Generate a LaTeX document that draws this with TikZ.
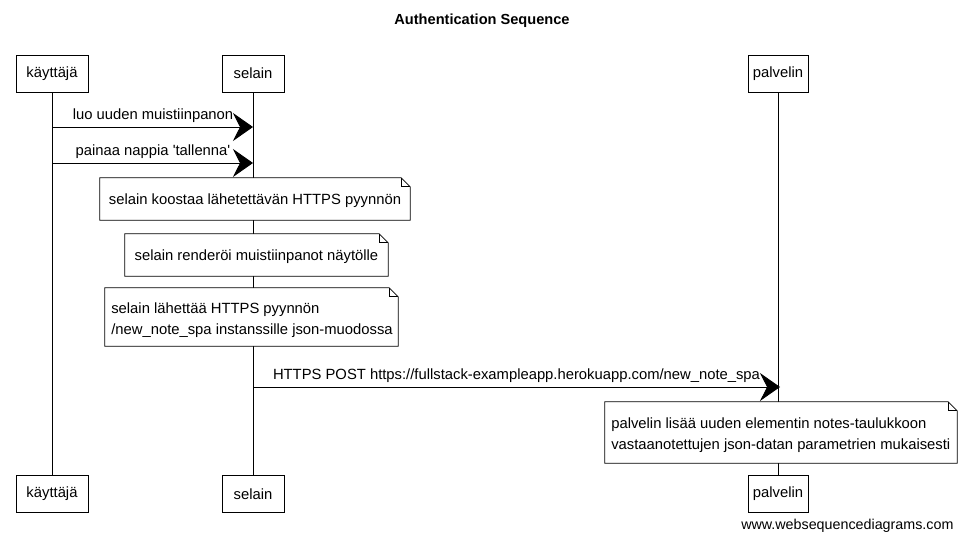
\documentclass[tikz,border=0pt]{standalone}
\usepackage{fontspec}
\setmainfont{Liberation Sans}[Ligatures=TeXOff]
\usetikzlibrary{arrows.meta,calc}
\begin{document}
\begin{tikzpicture}[x=1pt,y=-1pt,
  font=\fontsize{14.8}{17}\selectfont,
  actor/.style={draw, line width=0.9pt, fill=white, minimum height=37pt, inner sep=0pt},
  lifeline/.style={line width=0.8pt},
  msg/.style={line width=0.9pt, -{Stealth[length=20pt,width=28pt,inset=7pt]}},
  notebox/.style={inner sep=0pt, align=left},
  notetext/.style={font=\fontsize{14.8}{21}\selectfont}
]
\useasboundingbox[fill=white] (0,0) rectangle (964,541);
\node[font=\bfseries\fontsize{14.6}{17}\selectfont] (title) at (482,21) {Authentication Sequence};

% actors top
\node[actor, minimum width=72pt] (u1) at (52,73.5) {käyttäjä};
\node[actor, minimum width=62pt] (s1) at (253,73.5) {selain};
\node[actor, minimum width=60pt] (p1) at (778,73.5) {palvelin};
% actors bottom
\node[actor, minimum width=72pt] (u2) at (52,494) {käyttäjä};
\node[actor, minimum width=62pt] (s2) at (253,494) {selain};
\node[actor, minimum width=60pt] (p2) at (778,494) {palvelin};

% lifelines
\draw[lifeline] (u1.south) -- (u2.north);
\draw[lifeline] (s1.south) -- (s2.north);
\draw[lifeline] (p1.south) -- (p2.north);

% messages
\coordinate (m1a) at (53,127); \coordinate (m1b) at (253,127);
\draw[msg] (m1a) -- (m1b) node[midway, above=1pt] (l1) {luo uuden muistiinpanon};
\coordinate (m2a) at (53,163); \coordinate (m2b) at (253,163);
\draw[msg] (m2a) -- (m2b) node[midway, above=1pt] (l2) {painaa nappia 'tallenna'};

% notes
\newcommand{\notedraw}[1]{%
  \draw[line width=0.8pt, fill=white]
    (#1.north west) -- ($(#1.north east)+(-9,0)$) -- ($(#1.north east)+(0,9)$)
    -- (#1.south east) -- (#1.south west) -- cycle;
  \draw[line width=0.8pt] ($(#1.north east)+(-9,0)$) -- ($(#1.north east)+(-9,9)$) -- ($(#1.north east)+(0,9)$);
}
\path (255,199) node[notebox, minimum width=310pt, minimum height=42pt] (n1) {};
\notedraw{n1}
\node (t1) at ($(n1.center)+(0,2)$) {selain koostaa lähetettävän HTTPS pyynnön};

\path (256.5,255) node[notebox, minimum width=263pt, minimum height=42pt] (n2) {};
\notedraw{n2}
\node (t2) at ($(n2.center)+(0,2)$) {selain renderöi muistiinpanot näytölle};

\path (251.5,317) node[notebox, minimum width=293pt, minimum height=58pt] (n3) {};
\notedraw{n3}
\node[notetext, align=left, anchor=west] (t3) at ($(n3.west)+(3,3)$) {selain lähettää HTTPS pyynnön\\/new\_note\_spa instanssille json-muodossa};

\coordinate (m3a) at (253,387); \coordinate (m3b) at (780,387);
\draw[msg] (m3a) -- (m3b) node[midway, above=1pt] (l3) {HTTPS POST https://fullstack-exampleapp.herokuapp.com/new\_note\_spa};

\path (781,432.5) node[notebox, minimum width=352pt, minimum height=61pt] (n4) {};
\notedraw{n4}
\node[notetext, align=left, anchor=west] (t4) at ($(n4.west)+(3,3)$) {palvelin lisää uuden elementin notes-taulukkoon\\vastaanotettujen json-datan parametrien mukaisesti};

\node[anchor=east, font=\fontsize{14.3}{16}\selectfont] (wm) at (957,526) {www.websequencediagrams.com};
\end{tikzpicture}
\end{document}
